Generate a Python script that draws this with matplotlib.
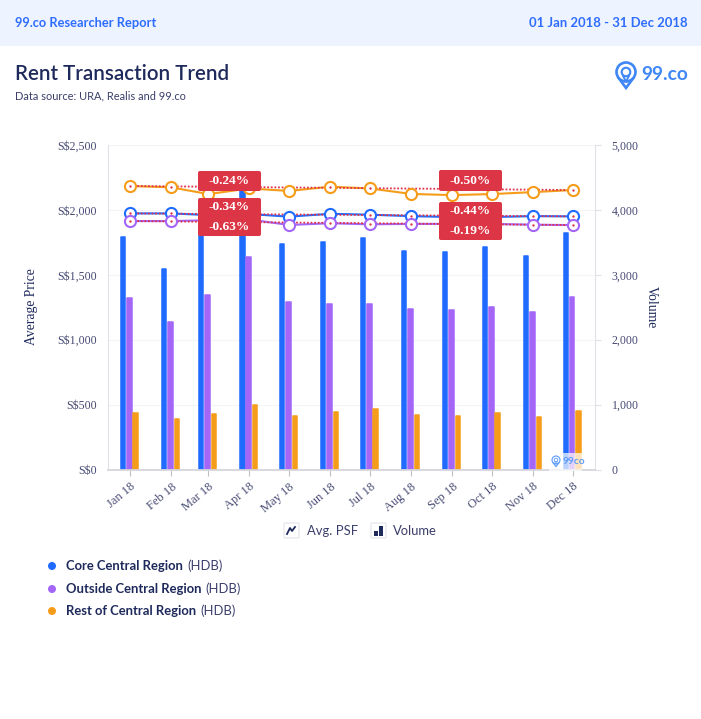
import datetime as dt
import matplotlib
matplotlib.use('Agg')
import matplotlib.pyplot as plt
import matplotlib.dates as mdates
from matplotlib.patches import Rectangle, FancyBboxPatch, Circle, Polygon
from matplotlib.ticker import FuncFormatter

W, H = 701, 719

months = ["Jan 18", "Feb 18", "Mar 18", "Apr 18", "May 18", "Jun 18",
          "Jul 18", "Aug 18", "Sep 18", "Oct 18", "Nov 18", "Dec 18"]
dates = [dt.date(2018, m, 1) for m in range(1, 13)]

# average price (left axis)
psf_core = [1973, 1973, 1960, 1968, 1948, 1970, 1963, 1952, 1945, 1945, 1952, 1950]
psf_outside = [1914, 1914, 1920, 1926, 1884, 1897, 1889, 1892, 1892, 1892, 1886, 1883]
psf_rest = [2184, 2174, 2122, 2165, 2146, 2179, 2165, 2123, 2114, 2122, 2137, 2153]

# volume (right axis)
vol_core = [3584, 3088, 4060, 4370, 3475, 3505, 3568, 3368, 3358, 3432, 3290, 3640]
vol_outside = [2642, 2272, 2688, 3275, 2580, 2550, 2550, 2472, 2457, 2503, 2426, 2658]
vol_rest = [868, 775, 852, 991, 821, 883, 929, 837, 821, 868, 806, 898]

price_ticks = [0, 500, 1000, 1500, 2000, 2500]
volume_ticks = [0, 1000, 2000, 3000, 4000, 5000]

badges_left = ["-0.24%", "-0.34%", "-0.63%"]
badges_right = ["-0.50%", "-0.44%", "-0.19%"]

# months where the trend's red dot shows inside the marker
dots_core = [0, 1, 6, 7, 10, 11]
dots_outside = [0, 1, 5, 6, 7, 10, 11]
dots_rest = [0, 1, 5, 6, 11]

BLUE = '#1f6bff'
PURPLE = '#a366f7'
ORANGE = '#f59c1a'
NAVY = '#1f2a5c'
RED = '#dc3545'
TICK = '#474b74'
DOT = '#e0314b'
FONT = ['Lato', 'DejaVu Sans']
SERIF = 'Liberation Serif'

fig = plt.figure(figsize=(W / 100, H / 100), dpi=100)
fig.patch.set_facecolor('white')

# overlay in image pixels, y going down
bg = fig.add_axes([0, 0, 1, 1], zorder=5)
bg.set_xlim(0, W)
bg.set_ylim(H, 0)
bg.axis('off')
bg.patch.set_alpha(0)
bg.add_patch(Rectangle((0, 0), W, 46, color='#edf4ff', lw=0))

L, R, T, B = 108, 595, 145, 469.5
ax2 = fig.add_axes([L / W, 1 - B / H, (R - L) / W, (B - T) / H], zorder=1)
ax = ax2.twinx()
ax.set_zorder(2)
ax.patch.set_alpha(0)

x = mdates.date2num(dates)
day = 1 / 1.326  # days per pixel

for vals, off, col in [(vol_core, -7, BLUE), (vol_outside, -0.7, PURPLE), (vol_rest, 5.7, ORANGE)]:
    ax2.bar(x + off * day, vals, width=4.5 * day, color=col, edgecolor=col, linewidth=1.1,
            joinstyle='round', zorder=2)

ax2.set_ylim(0, 5000)
ax2.set_xlim(x[0] - 22 * day, x[0] + 465 * day)
ax.set_ylim(0, 2500)

# the price axis is on the left, volume on the right
ax.yaxis.tick_left()
ax.yaxis.set_label_position('left')
ax2.yaxis.tick_right()
ax2.yaxis.set_label_position('right')

ax.set_yticks(price_ticks)
ax.yaxis.set_major_formatter(FuncFormatter(lambda v, p: 'S${:,.0f}'.format(v)))
ax2.set_yticks(volume_ticks)
ax2.yaxis.set_major_formatter(FuncFormatter(lambda v, p: '{:,.0f}'.format(v)))
ax2.set_xticks(x)
ax2.set_xticklabels(months, rotation=40, ha='right', rotation_mode='anchor')

for a in (ax, ax2):
    for s in a.spines.values():
        s.set_visible(False)
ax2.spines['left'].set_visible(True)
ax2.spines['left'].set_color('#e0e0e6')
ax2.spines['right'].set_visible(True)
ax2.spines['right'].set_color('#e0e0e6')
ax2.spines['bottom'].set_visible(True)
ax2.spines['bottom'].set_color('#d5d5dc')
ax2.spines['bottom'].set_linewidth(1.3)

ax2.grid(axis='y', color='#f4f4f7', lw=0.8, zorder=0)
ax2.set_axisbelow(True)
ax.tick_params(axis='y', length=0, pad=8, labelsize=8.6, labelcolor=TICK, labelfontfamily=SERIF)
ax2.tick_params(axis='y', length=4, color='#e0e0e6', pad=8, labelsize=8.6, labelcolor=TICK, labelfontfamily=SERIF)
ax2.tick_params(axis='x', length=4, color='#c0c0c8', pad=4, labelsize=9, labelcolor=TICK, labelfontfamily=SERIF)

# lines with hollow markers, dotted first-to-last trend under the markers
for vals, col, dots in [(psf_rest, ORANGE, dots_rest), (psf_core, BLUE, dots_core), (psf_outside, PURPLE, dots_outside)]:
    ax.plot(x, vals, color=col, lw=1.5, zorder=3)
    ax.plot([x[0], x[-1]], [vals[0], vals[-1]], color=DOT, lw=1.3, ls=(0, (1, 1)), zorder=4)
    ax.plot(x, vals, ls='none', marker='o', ms=8, mfc='white', mec=col, mew=1.5, zorder=5)
    ax.plot(x[dots], [vals[i] for i in dots], ls='none', marker='o', ms=1.7, color=DOT, mew=0, zorder=6)

# axis titles
bg.text(31, 307, 'Average Price', rotation=90, ha='center', va='center', fontsize=9.8,
        color=NAVY, family=SERIF)
bg.text(651, 307, 'Volume', rotation=-90, ha='center', va='center', fontsize=9.8,
        color=NAVY, family=SERIF)


def badge(x0, y0, y1, labels):
    bg.add_patch(FancyBboxPatch((x0 + 2, y0 + 2), 59, y1 - y0 - 4, boxstyle='round,pad=2',
                                fc=RED, ec='none', zorder=6))
    n = len(labels)
    for i, t in enumerate(labels):
        yc = y0 + (y1 - y0) * (i + 0.5) / n
        bg.text(x0 + 31.5, yc, t, color='white', ha='center', va='center', fontsize=9.6,
                fontweight='bold', family=SERIF, zorder=7)


badge(198, 171, 191, badges_left[:1])
badge(198, 198, 236, badges_left[1:])
badge(439, 170, 191, badges_right[:1])
badge(439, 202, 240, badges_right[1:])

# header
bg.text(15, 23, '99.co Researcher Report', color='#2f6dff', fontsize=9.25, fontweight='bold',
        va='center', family=FONT)
bg.text(688, 23, '01 Jan 2018 - 31 Dec 2018', color='#2f6dff', fontsize=9.45, fontweight='bold',
        va='center', ha='right', family=FONT)
bg.text(15, 74, 'Rent Transaction Trend', color=NAVY, fontsize=14.8, fontweight='semibold',
        va='center', family=FONT)
bg.text(15, 96, 'Data source: URA, Realis and 99.co', color='#3a3f6b', fontsize=7.9,
        va='center', family=FONT)


def pin(cx, cy, r, col, z=8):
    # map pin logo
    bg.add_patch(Circle((cx, cy), r, fc='none', ec=col, lw=r * 0.2, zorder=z))
    bg.add_patch(Circle((cx, cy), r * 0.45, fc='none', ec=col, lw=r * 0.16, zorder=z))
    bg.add_patch(Polygon([(cx - r * 0.8, cy + r * 0.6), (cx, cy + r * 1.68), (cx + r * 0.8, cy + r * 0.6)],
                         closed=False, fc='none', ec=col, lw=r * 0.2, zorder=z))
    bg.add_patch(Polygon([(cx - r * 0.35, cy + r * 0.35), (cx, cy + r * 1.0), (cx + r * 0.35, cy + r * 0.35)],
                         closed=False, fc='none', ec=col, lw=r * 0.14, zorder=z))


pin(626, 72, 9.5, '#3f87f5')
bg.text(641, 75, '99.co', color='#3f87f5', fontsize=13.8, fontweight='bold', va='center',
        family=FONT, zorder=8)

# faded watermark on the plot
bg.add_patch(Rectangle((549, 453), 33, 18, fc='white', ec='none', alpha=0.7, zorder=6))
pin(556, 460, 4, '#5d9bf7', z=7)
bg.text(563, 462, '99co', color='#5d9bf7', fontsize=7.4, fontweight='bold', va='center',
        family=FONT, zorder=7)

# Avg. PSF / Volume legend
for x0 in (284, 371):
    bg.add_patch(FancyBboxPatch((x0 + 1, 524), 13, 13, boxstyle='round,pad=1', fc='white',
                                ec='#e3e3ea', lw=0.8, zorder=6))
bg.plot([287, 290, 292, 295], [534, 528, 531, 527], color=NAVY, lw=1.3, zorder=7)
bg.add_patch(Rectangle((374, 531), 3.5, 5, fc=NAVY, ec='none', zorder=7))
bg.add_patch(Rectangle((379, 526), 3.5, 10, fc=NAVY, ec='none', zorder=7))
bg.text(307, 531, 'Avg. PSF', color='#3a3f6b', fontsize=9.4, va='center', family=FONT)
bg.text(393, 531, 'Volume', color='#3a3f6b', fontsize=9.4, va='center', family=FONT)

# region legend
regions = ['Core Central Region', 'Outside Central Region', 'Rest of Central Region']
fig.canvas.draw()
rend = fig.canvas.get_renderer()
for name, col, y in zip(regions, [BLUE, PURPLE, ORANGE], [566, 589, 611]):
    bg.add_patch(Circle((52, y), 4, fc=col, ec='none', zorder=6))
    t = bg.text(66, y, name, color=NAVY, fontsize=9.4, fontweight='bold', va='center', family=FONT)
    ext = t.get_window_extent(rend)
    bg.text(ext.x1 + 4, y, '(HDB)', color='#3a3f6b', fontsize=9.4, va='center', family=FONT)

fig.savefig('out.png', dpi=100)
